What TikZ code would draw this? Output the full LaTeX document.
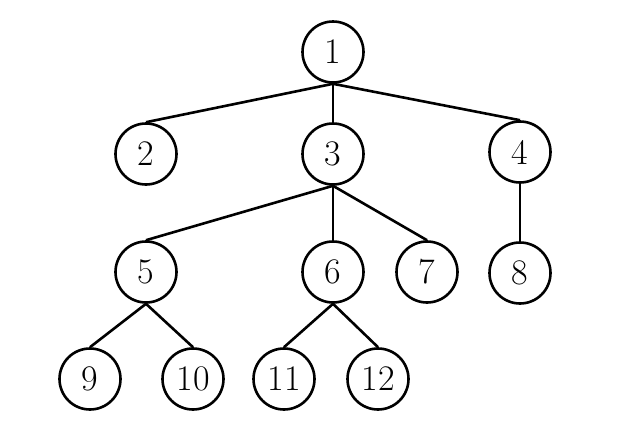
\documentclass[tikz,border=0pt]{standalone}
\begin{document}
\begin{tikzpicture}[x=1pt,y=-1pt,
  tn/.style={circle,draw,line width=2.6pt,minimum size=61pt,inner sep=0pt,font=\fontsize{36}{40}\selectfont},
  ed/.style={line width=2.6pt}]
\useasboundingbox (0,0) rectangle (630,426);
\node[tn] (n1) at (333,52) {1};
\node[tn] (n2) at (146,154) {2};
\node[tn] (n3) at (333,154) {3};
\node[tn] (n4) at (520,152) {4};
\node[tn] (n5) at (146,272) {5};
\node[tn] (n6) at (333,272) {6};
\node[tn] (n7) at (427,272) {7};
\node[tn] (n8) at (520,273) {8};
\node[tn] (n9) at (90,379) {9};
\node[tn] (n10) at (193,379) {10};
\node[tn] (n11) at (284,379) {11};
\node[tn] (n12) at (378,379) {12};
\foreach \p/\c in {n1/n2,n1/n3,n1/n4,n3/n5,n3/n6,n3/n7,n4/n8,n5/n9,n5/n10,n6/n11,n6/n12}
  \draw[ed] (\p.south) -- (\c.north);
\end{tikzpicture}
\end{document}
